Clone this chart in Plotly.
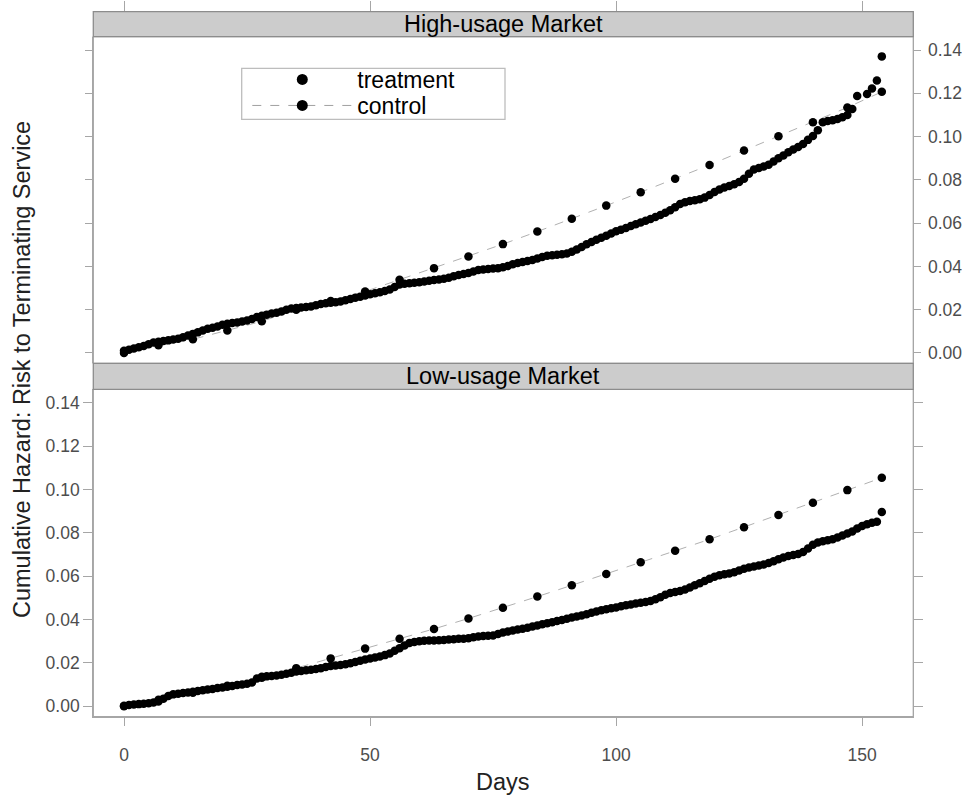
import plotly.graph_objects as go

# ---------------- data ----------------
panels = ["High-usage Market", "Low-usage Market"]
series_names = ["treatment", "control"]

# High-usage market, treatment: daily estimates days 0..148, then sparse tail
high_treat_days = list(range(0, 149)) + [149, 151, 152, 153, 154]
high_treat = [
    0.0010, 0.0015, 0.0020, 0.0026, 0.0032, 0.0040, 0.0048, 0.0052, 0.0055, 0.0058,
    0.0062, 0.0066, 0.0072, 0.0080, 0.0088, 0.0095, 0.0104, 0.0112, 0.0116, 0.0122,
    0.0130, 0.0135, 0.0138, 0.0141, 0.0145, 0.0150, 0.0157, 0.0166, 0.0172, 0.0177,
    0.0182, 0.0186, 0.0192, 0.0200, 0.0205, 0.0208, 0.0210, 0.0212, 0.0215, 0.0220,
    0.0226, 0.0230, 0.0232, 0.0234, 0.0238, 0.0243, 0.0249, 0.0255, 0.0260, 0.0266,
    0.0271, 0.0276, 0.0281, 0.0286, 0.0293, 0.0305, 0.0316, 0.0320, 0.0322, 0.0324,
    0.0327, 0.0330, 0.0334, 0.0337, 0.0339, 0.0343, 0.0348, 0.0355, 0.0360, 0.0365,
    0.0370, 0.0376, 0.0383, 0.0386, 0.0388, 0.0390, 0.0392, 0.0396, 0.0402, 0.0410,
    0.0416, 0.0420, 0.0425, 0.0430, 0.0436, 0.0443, 0.0449, 0.0452, 0.0454, 0.0456,
    0.0460, 0.0468, 0.0478, 0.0490, 0.0502, 0.0513, 0.0523, 0.0532, 0.0542, 0.0552,
    0.0562, 0.0570, 0.0578, 0.0587, 0.0595, 0.0603, 0.0611, 0.0619, 0.0628, 0.0638,
    0.0648, 0.0660, 0.0674, 0.0688, 0.0697, 0.0702, 0.0706, 0.0710, 0.0718, 0.0730,
    0.0744, 0.0756, 0.0765, 0.0772, 0.0780, 0.0790, 0.0805, 0.0828, 0.0848, 0.0855,
    0.0862, 0.0870, 0.0885, 0.0900, 0.0913, 0.0928, 0.0940, 0.0952, 0.0966, 0.0985,
    0.1003, 0.1030, 0.1066, 0.1072, 0.1076, 0.1082, 0.1090, 0.1100, 0.1128,
    0.1188, 0.1197, 0.1223, 0.1259, 0.1371,
]

# Low-usage market, treatment: daily estimates days 0..154
low_treat_days = list(range(0, 155))
low_treat = [
    0.0003, 0.0006, 0.0008, 0.0010, 0.0012, 0.0014, 0.0017, 0.0022, 0.0035, 0.0048,
    0.0055, 0.0058, 0.0061, 0.0064, 0.0067, 0.0071, 0.0074, 0.0077, 0.0080, 0.0084,
    0.0087, 0.0090, 0.0094, 0.0098, 0.0101, 0.0104, 0.0110, 0.0128, 0.0136, 0.0138,
    0.0140, 0.0142, 0.0145, 0.0150, 0.0155, 0.0160, 0.0163, 0.0166, 0.0169, 0.0172,
    0.0176, 0.0181, 0.0186, 0.0188, 0.0190, 0.0194, 0.0199, 0.0204, 0.0210, 0.0216,
    0.0220, 0.0225, 0.0230, 0.0236, 0.0244, 0.0256, 0.0268, 0.0280, 0.0292, 0.0297,
    0.0300, 0.0302, 0.0303, 0.0304, 0.0305, 0.0306, 0.0308, 0.0309, 0.0311, 0.0312,
    0.0314, 0.0318, 0.0322, 0.0324, 0.0325, 0.0326, 0.0333, 0.0340, 0.0345, 0.0350,
    0.0354, 0.0358, 0.0362, 0.0368, 0.0373, 0.0378, 0.0383, 0.0388, 0.0393, 0.0398,
    0.0404, 0.0409, 0.0414, 0.0419, 0.0425, 0.0431, 0.0437, 0.0443, 0.0448, 0.0452,
    0.0456, 0.0461, 0.0466, 0.0470, 0.0474, 0.0478, 0.0481, 0.0486, 0.0494, 0.0503,
    0.0514, 0.0522, 0.0527, 0.0532, 0.0539, 0.0548, 0.0558, 0.0568, 0.0578, 0.0588,
    0.0597, 0.0604, 0.0609, 0.0613, 0.0618, 0.0626, 0.0634, 0.0640, 0.0645, 0.0649,
    0.0654, 0.0661, 0.0669, 0.0678, 0.0686, 0.0693, 0.0698, 0.0702, 0.0712, 0.0728,
    0.0745, 0.0755, 0.0761, 0.0766, 0.0770, 0.0778, 0.0788, 0.0797, 0.0806, 0.0820,
    0.0832, 0.0840, 0.0846, 0.0851, 0.0896,
]

# control: weekly estimates
control_days = [0, 7, 14, 21, 28, 35, 42, 49, 56, 63, 70, 77, 84, 91, 98, 105,
                112, 119, 126, 133, 140, 147, 154]
high_control = [0.0000, 0.0035, 0.0063, 0.0104, 0.0146, 0.0200, 0.0240, 0.0284,
                0.0338, 0.0392, 0.0446, 0.0503, 0.0561, 0.0620, 0.0681, 0.0743,
                0.0805, 0.0869, 0.0936, 0.1002, 0.1066, 0.1135, 0.1207]
low_control = [0.0000, 0.0030, 0.0062, 0.0095, 0.0132, 0.0176, 0.0221, 0.0266,
               0.0311, 0.0357, 0.0405, 0.0454, 0.0506, 0.0558, 0.0610, 0.0664,
               0.0717, 0.0770, 0.0826, 0.0882, 0.0939, 0.0997, 0.1054]

x_ticks = [0, 50, 100, 150]
y_ticks = [0.00, 0.02, 0.04, 0.06, 0.08, 0.10, 0.12, 0.14]
x_title = "Days"
y_title = "Cumulative Hazard: Risk to Terminating Service"

# ---------------- styling / layout ----------------
W, H = 962, 800
FONT = "Liberation Sans, Arial, Helvetica, sans-serif"
AXIS_GRAY = "#a6a6a6"
TICK_TEXT = "#4d4d4d"
STRIP_FILL = "#cccccc"
STRIP_LINE = "#8c8c8c"
TEXT_SIZE = 23.5

def px_x(p):
    return p / W

def px_y(p):
    return 1 - p / H

x_dom = [px_x(93.3), px_x(913.3)]
top_dom = [px_y(363.3), px_y(36.7)]
bot_dom = [px_y(716.7), px_y(389.3)]
top_strip = [top_dom[1], px_y(11.7)]
bot_strip = [bot_dom[1], top_dom[0]]

x_range = [-6.24, 160.4]
y_range = [-0.0048, 0.1462]

MS = 8.5
LEG_MS = 11
treat_marker = dict(color="black", size=MS, symbol="circle")
ctrl_marker = dict(color="black", size=MS, symbol="circle")
ctrl_line = dict(color="#b0b0b0", width=1, dash="dash")

fig = go.Figure()

panel_data = [
    (high_treat_days, high_treat, high_control, "x", "y"),
    (low_treat_days, low_treat, low_control, "x2", "y2"),
]
for tdays, tvals, cvals, xa, ya in panel_data:
    fig.add_trace(go.Scatter(
        x=control_days, y=cvals, mode="lines+markers", name=series_names[1],
        marker=ctrl_marker, line=ctrl_line, xaxis=xa, yaxis=ya,
        showlegend=False, hoverinfo="skip"))
    fig.add_trace(go.Scatter(
        x=tdays, y=tvals, mode="markers", name=series_names[0],
        marker=treat_marker, xaxis=xa, yaxis=ya,
        showlegend=False, hoverinfo="skip"))

# legend-only entries (empty data) so the key symbols can be larger
fig.add_trace(go.Scatter(x=[None], y=[None], mode="markers", name=series_names[0],
                         marker=dict(color="black", size=LEG_MS), legend="legend",
                         xaxis="x", yaxis="y", showlegend=True))
fig.add_trace(go.Scatter(x=[None], y=[None], mode="lines+markers", name=series_names[1],
                         marker=dict(color="black", size=LEG_MS),
                         line=dict(color="#a0a0a0", width=1, dash="dash"),
                         legend="legend2", xaxis="x", yaxis="y", showlegend=True))

tickfont = dict(family=FONT, size=17.5, color=TICK_TEXT)

common_x = dict(range=x_range, domain=x_dom, tickvals=x_ticks,
                ticks="outside", tickcolor=AXIS_GRAY, showgrid=False,
                zeroline=False, tickfont=tickfont)
common_y = dict(range=y_range, tickvals=y_ticks, tickformat=".2f",
                ticks="outside", tickcolor=AXIS_GRAY, showgrid=False,
                zeroline=False, showline=True, linecolor=AXIS_GRAY,
                linewidth=1.3, mirror="ticks", tickfont=tickfont)

ITEMW = 100
leg_x = px_x(358.3 - (ITEMW + 11))
leg_common = dict(x=leg_x, xanchor="left", yanchor="top",
                  bgcolor="rgba(0,0,0,0)", borderwidth=0,
                  font=dict(family=FONT, size=TEXT_SIZE - 0.5, color="black"),
                  itemwidth=ITEMW, tracegroupgap=0, itemsizing="trace")

fig.update_layout(
    width=W, height=H,
    margin=dict(l=0, r=0, t=0, b=0),
    paper_bgcolor="white", plot_bgcolor="white",
    font=dict(family=FONT, color="black"),
    xaxis=dict(**common_x, anchor="free", position=top_strip[1], side="top",
               ticklen=11, tickwidth=1.3, showticklabels=False, showline=False),
    xaxis2=dict(**common_x, anchor="y2", side="bottom", ticklen=8,
                showline=True, linecolor=AXIS_GRAY, linewidth=1.3,
                ticklabelstandoff=14),
    yaxis=dict(**common_y, domain=top_dom, anchor="x", side="right",
               ticklen=7, ticklabelstandoff=3),
    yaxis2=dict(**common_y, domain=bot_dom, anchor="x2", side="left",
                ticklen=9),
    showlegend=True,
    legend=dict(**leg_common, y=px_y(81 - 23)),
    legend2=dict(**leg_common, y=px_y(107 - 23)),
)

shapes = []
# panel borders
for ya_dom in (top_dom, bot_dom):
    shapes.append(dict(type="rect", xref="paper", yref="paper",
                       x0=x_dom[0], x1=x_dom[1], y0=ya_dom[0], y1=ya_dom[1],
                       line=dict(color=AXIS_GRAY, width=1.3),
                       fillcolor="rgba(0,0,0,0)", layer="below"))
# strips
for sdom in (top_strip, bot_strip):
    shapes.append(dict(type="rect", xref="paper", yref="paper",
                       x0=x_dom[0], x1=x_dom[1], y0=sdom[0], y1=sdom[1],
                       line=dict(color=STRIP_LINE, width=1.3),
                       fillcolor=STRIP_FILL, layer="above"))
# key box
shapes.append(dict(type="rect", xref="paper", yref="paper",
                   x0=px_x(241.7), x1=px_x(505), y0=px_y(119.3), y1=px_y(68.3),
                   line=dict(color="#bdbdbd", width=1.3), fillcolor="white",
                   layer="below"))
fig.update_layout(shapes=shapes)

annotations = []
for title, sdom in zip(panels, (top_strip, bot_strip)):
    annotations.append(dict(text=title, xref="paper", yref="paper",
                            x=(x_dom[0] + x_dom[1]) / 2, y=(sdom[0] + sdom[1]) / 2,
                            xanchor="center", yanchor="middle", showarrow=False,
                            font=dict(family=FONT, size=TEXT_SIZE, color="black")))
annotations.append(dict(text=x_title, xref="paper", yref="paper",
                        x=(x_dom[0] + x_dom[1]) / 2, y=px_y(782),
                        xanchor="center", yanchor="middle", showarrow=False,
                        font=dict(family=FONT, size=TEXT_SIZE, color="#222222")))
annotations.append(dict(text=y_title, xref="paper", yref="paper",
                        x=px_x(22), y=px_y(370), textangle=-90,
                        xanchor="center", yanchor="middle", showarrow=False,
                        font=dict(family=FONT, size=TEXT_SIZE, color="#222222")))
fig.update_layout(annotations=annotations)

fig.write_html("out.html", config={"displayModeBar": False},
               post_script="document.body.style.margin='0px';")
